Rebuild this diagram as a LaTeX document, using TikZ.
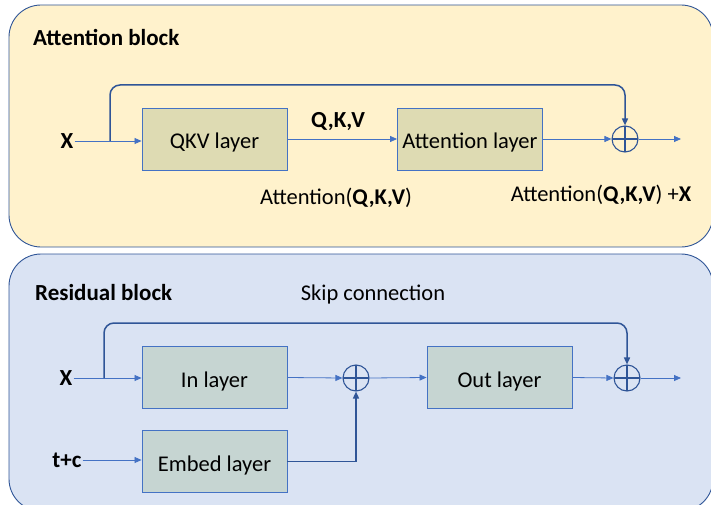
\documentclass[tikz,border=0pt]{standalone}
\usepackage{fontspec}
\setmainfont{Carlito}
\usetikzlibrary{arrows.meta}
\definecolor{edge}{HTML}{2F5597}
\definecolor{flow}{HTML}{4472C4}
\definecolor{attnbg}{HTML}{FFF2CC}
\definecolor{resbg}{HTML}{DAE3F3}
\definecolor{attnbox}{HTML}{DEDBB3}
\definecolor{resbox}{HTML}{C6D5D2}
\tikzset{
  panel/.style={draw=edge, line width=0.9pt, rounded corners=32pt},
  layer/.style={draw=flow, line width=0.9pt, minimum width=145pt, minimum height=62pt, inner sep=0pt,
    text height=19pt, text depth=0pt, font=\fontsize{22.5}{26}\selectfont},
  lab/.style={font=\fontsize{22.5}{26}\selectfont, inner sep=1pt},
  bold/.style={font=\fontsize{23}{27}\selectfont\bfseries, inner sep=1pt},
  flowline/.style={draw=flow, line width=0.8pt, -{Triangle[length=7pt,width=6pt]}},
  skipline/.style={draw=edge, line width=1.5pt, -{Triangle[length=7pt,width=6pt]}},
  sum/.style={circle, draw=edge, line width=1.1pt, minimum size=26pt, inner sep=0pt,
    path picture={\draw[edge, line width=1.1pt] (path picture bounding box.north) -- (path picture bounding box.south)
      (path picture bounding box.west) -- (path picture bounding box.east);}},
}

\begin{document}
\begin{tikzpicture}[x=1pt, y=-1pt]
\clip (0,0) rectangle (711,505);
\useasboundingbox (0,0) rectangle (711,505);

% Attention block
\draw[panel, fill=attnbg] (9,5) rectangle (713,247);
\node[bold, anchor=west] (attntitle) at (32,38) {Attention block};
\node[bold] (xa) at (67,141) {X};
\node[layer, fill=attnbox] (qkv) at (214.5,139) {QKV layer};
\node[layer, fill=attnbox] (attn) at (470,139) {Attention layer};
\node[sum] (suma) at (625,139) {};
\coordinate (sa) at (110,141);
\coordinate (ta) at (110,85);
\coordinate (outa) at (681,139);
\draw[flowline] (xa.east) -- (qkv.west |- xa.east);
\draw[flowline] (qkv.east) -- (attn.west);
\draw[flowline] (attn.east) -- (suma.west);
\draw[flowline] (suma.east) -- (outa);
\draw[skipline, rounded corners=10pt] (sa) -- (ta) -| (suma.north);
\node[bold] (qkvlab) at (338,122) {Q,K,V};
\node[lab] (attnout) at (336,198) {Attention(\textbf{Q,K,V})};
\node[lab] (sumout) at (601,195) {Attention(\textbf{Q,K,V}) +\textbf{X}};

% Residual block
\draw[panel, fill=resbg] (9,254) rectangle (713,511);
\node[bold, anchor=west] (restitle) at (34,293) {Residual block};
\node[lab] (skiplab) at (373,294) {Skip connection};
\node[bold] (xb) at (66,378) {X};
\node[bold] (tc) at (67,460) {t+c};
\node[layer, fill=resbox] (inl) at (214.5,377.5) {In layer};
\node[layer, fill=resbox] (embed) at (214.5,461.5) {Embed layer};
\node[layer, fill=resbox] (outl) at (499.5,377.5) {Out layer};
\node[sum] (sumb) at (356,378) {};
\node[sum] (sumc) at (627,378) {};
\coordinate (sb) at (104,378);
\coordinate (tb) at (104,323);
\coordinate (outb) at (681,378);
\draw[flowline] (xb.east) -- (inl.west |- xb.east);
\draw[flowline] (tc.east) -- (embed.west |- tc.east);
\draw[flowline] (inl.east) -- (sumb.west);
\draw[flowline] (sumb.east) -- (outl.west);
\draw[flowline] (outl.east) -- (sumc.west);
\draw[flowline] (sumc.east) -- (outb);
\draw[skipline] (embed.east) -| (sumb.south);
\draw[skipline, rounded corners=10pt] (sb) -- (tb) -| (sumc.north);
\end{tikzpicture}
\end{document}
